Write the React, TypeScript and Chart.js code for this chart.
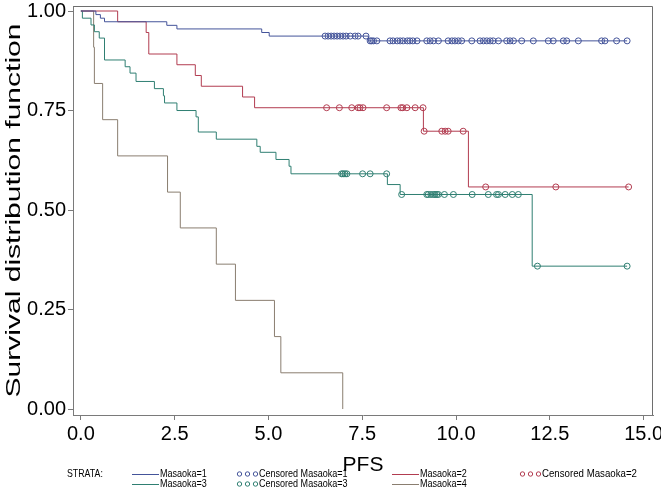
import React, { useEffect, useRef } from 'react';
import { Chart, registerables } from 'chart.js';

Chart.register(...registerables);

const FONT = '"Liberation Sans", Arial, Helvetica, sans-serif';

// Axis ticks
const xTicks = [0, 2.5, 5, 7.5, 10, 12.5, 15];
const yTicks = [0, 0.25, 0.5, 0.75, 1];
const xTitle = 'PFS';
const yTitle = 'Survival distribution function';

// Strata
const strataLabels = ['Masaoka=1', 'Masaoka=2', 'Masaoka=3', 'Masaoka=4'];
const strataColors = ['#44549a', '#b23c50', '#2f7f72', '#8a7e70'];

// Masaoka=1 (event times / survival after each event / censored times)
const m1Times = [0, 0.40, 0.52, 0.63, 2.29, 2.56, 4.82, 5.02, 7.66];
const m1Surv = [1, 0.991, 0.982, 0.973, 0.964, 0.955, 0.946, 0.937, 0.925];
const m1Censor = [6.51, 6.59, 6.67, 6.75, 6.83, 6.91, 6.99, 7.07, 7.18, 7.31, 7.39, 7.60,
  7.71, 7.75, 7.80, 7.89, 8.24, 8.32, 8.43, 8.51, 8.59, 8.70, 8.77, 8.85, 8.96, 9.22, 9.31,
  9.40, 9.53, 9.79, 9.89, 9.97, 10.06, 10.15, 10.42, 10.64, 10.73, 10.82, 10.91, 10.99,
  11.13, 11.35, 11.44, 11.53, 11.75, 12.06, 12.46, 12.59, 12.86, 12.95, 13.26, 13.88,
  13.97, 14.28, 14.56];

// Masaoka=2
const m2Times = [0, 0.98, 1.74, 1.81, 2.56, 3.05, 3.21, 4.31, 4.63, 9.13, 10.33];
const m2Surv = [1, 0.973, 0.946, 0.892, 0.865, 0.838, 0.811, 0.784, 0.757, 0.698, 0.558];
const m2Censor = [6.55, 6.89, 7.22, 7.39, 7.44, 7.52, 8.15, 8.53, 8.58, 8.69, 8.91, 9.12,
  9.15, 9.62, 9.71, 9.79, 10.19, 10.79, 12.66, 14.6];

// Masaoka=3
const m3Times = [0, 0.04, 0.27, 0.36, 0.49, 0.63, 1.18, 1.31, 1.47, 1.96, 2.20, 2.23, 2.56,
  3.07, 3.13, 3.61, 4.69, 4.78, 5.20, 5.55, 5.60, 8.17, 8.51, 12.03];
const m3Surv = [1, 0.982, 0.965, 0.948, 0.932, 0.877, 0.860, 0.844, 0.823, 0.805, 0.787,
  0.769, 0.750, 0.734, 0.696, 0.678, 0.660, 0.645, 0.627, 0.610, 0.591, 0.564, 0.539, 0.359];
const m3Censor = [6.95, 6.99, 7.04, 7.09, 7.51, 7.71, 8.15, 8.55, 9.22, 9.26, 9.33, 9.40,
  9.44, 9.49, 9.53, 9.69, 9.93, 10.43, 10.86, 11.08, 11.13, 11.31, 11.50, 11.66, 12.17, 14.56];

// Masaoka=4
const m4Times = [0, 0.34, 0.36, 0.58, 0.98, 2.31, 2.65, 3.61, 4.12, 5.16, 5.33, 6.98];
const m4Surv = [1, 0.909, 0.818, 0.727, 0.636, 0.545, 0.455, 0.364, 0.273, 0.182, 0.091, 0];
const m4Censor: number[] = [];

const groups = [
  { times: m1Times, surv: m1Surv, censor: m1Censor },
  { times: m2Times, surv: m2Surv, censor: m2Censor },
  { times: m3Times, surv: m3Surv, censor: m3Censor },
  { times: m4Times, surv: m4Surv, censor: m4Censor },
];

function survAt(times: number[], surv: number[], t: number) {
  let s = surv[0];
  for (let i = 0; i < times.length; i++) if (times[i] <= t) s = surv[i];
  return s;
}

function curvePoints(times: number[], surv: number[], censor: number[]) {
  const pts = times.map((t, i) => ({ x: t, y: surv[i] }));
  const last = times[times.length - 1];
  const end = censor.length ? Math.max(...censor) : last;
  if (end > last) pts.push({ x: end, y: surv[surv.length - 1] });
  return pts;
}

const framePlugin = {
  id: 'frameAndLegend',
  afterDraw(chart: any) {
    const { ctx, chartArea } = chart;
    ctx.save();
    ctx.strokeStyle = '#6e6e6e';
    ctx.lineWidth = 1;
    ctx.beginPath();
    ctx.moveTo(Math.round(chartArea.left) + 0.5, Math.round(chartArea.top) + 0.5);
    ctx.lineTo(Math.round(chartArea.right) - 0.5, Math.round(chartArea.top) + 0.5);
    ctx.lineTo(Math.round(chartArea.right) - 0.5, Math.round(chartArea.bottom));
    ctx.stroke();

    // Y axis title (stretched along its length like the reference)
    ctx.save();
    ctx.fillStyle = '#000';
    ctx.font = '21px ' + FONT;
    ctx.textAlign = 'center';
    ctx.textBaseline = 'middle';
    const yc = (chartArea.top + chartArea.bottom) / 2;
    ctx.translate(14, yc);
    ctx.rotate(-Math.PI / 2);
    const w = ctx.measureText(yTitle).width;
    ctx.scale(374 / w, 1);
    ctx.fillText(yTitle, 0, 0);
    ctx.restore();

    // Legend
    ctx.fillStyle = '#000';
    ctx.font = '11px ' + FONT;
    ctx.textBaseline = 'middle';
    ctx.textAlign = 'left';
    const r1 = 474, r2 = 484;
    const txt = (s: string, x: number, y: number, k = 0.82) => {
      ctx.save();
      ctx.translate(x, y);
      ctx.scale(k, 1);
      ctx.fillText(s, 0, 0);
      ctx.restore();
    };
    txt('STRATA:', 67, r1, 0.8);
    const lineItem = (x: number, y: number, color: string, label: string) => {
      ctx.strokeStyle = color;
      ctx.beginPath();
      ctx.moveTo(x, y + 0.5);
      ctx.lineTo(x + 27, y + 0.5);
      ctx.stroke();
      txt(label, x + 28, y);
    };
    const circItem = (x: number, y: number, color: string, label: string, k = 0.82) => {
      ctx.strokeStyle = color;
      for (let j = 0; j < 3; j++) {
        ctx.beginPath();
        ctx.arc(x + 2.5 + j * 8, y, 2.2, 0, Math.PI * 2);
        ctx.stroke();
      }
      txt(label, x + 22, y, k);
    };
    lineItem(132, r1, strataColors[0], strataLabels[0]);
    lineItem(132, r2, strataColors[2], strataLabels[2]);
    circItem(237, r1, strataColors[0], 'Censored ' + strataLabels[0]);
    circItem(237, r2, strataColors[2], 'Censored ' + strataLabels[2]);
    lineItem(392, r1, strataColors[1], strataLabels[1]);
    lineItem(392, r2, strataColors[3], strataLabels[3]);
    circItem(520, r1, strataColors[1], 'Censored ' + strataLabels[1], 0.88);
    ctx.restore();
  },
};

export default function App() {
  const ref = useRef<HTMLCanvasElement>(null);

  useEffect(() => {
    const lineSets = groups.map((g, i) => ({
      type: 'line' as const,
      label: strataLabels[i],
      data: curvePoints(g.times, g.surv, g.censor),
      borderColor: strataColors[i],
      borderWidth: 1,
      pointRadius: 0,
      stepped: 'before' as const,
      fill: false,
    }));
    const censorSets = groups
      .map((g, i) => ({
        type: 'scatter' as const,
        label: 'Censored ' + strataLabels[i],
        data: g.censor.map((t) => ({ x: t, y: survAt(g.times, g.surv, t) })),
        borderColor: strataColors[i],
        backgroundColor: 'rgba(0,0,0,0)',
        pointStyle: 'circle',
        pointRadius: 3,
        borderWidth: 1,
        showLine: false,
      }))
      .filter((d) => d.data.length > 0);

    const chart = new Chart(ref.current!, {
      type: 'line',
      data: { datasets: [...lineSets, ...censorSets] as any },
      options: {
        animation: false,
        responsive: false,
        devicePixelRatio: 1,
        layout: { padding: { top: 6, right: 8, left: 0, bottom: 0 } },
        plugins: { legend: { display: false }, tooltip: { enabled: false } },
        scales: {
          x: {
            type: 'linear',
            min: -0.21,
            max: 15.25,
            afterBuildTicks: (s: any) => {
              s.ticks = xTicks.map((v) => ({ value: v }));
            },
            afterFit: (s: any) => {
              s.height = 86;
              s.paddingLeft = 0;
              s.paddingRight = 0;
            },
            ticks: {
              callback: (v: any) => Number(v).toFixed(1),
              font: { family: FONT, size: 20 },
              color: '#000',
              padding: 2,
              maxRotation: 0,
              autoSkip: false,
            },
            grid: { drawOnChartArea: false, drawTicks: true, tickLength: 5, color: '#7a7a7a' },
            border: { color: '#7a7a7a' },
            title: {
              display: true,
              text: xTitle,
              color: '#000',
              font: { family: FONT, size: 21 },
              padding: { top: 0, bottom: 23 },
            },
          },
          y: {
            type: 'linear',
            min: -0.015,
            max: 1.0126,
            afterBuildTicks: (s: any) => {
              s.ticks = yTicks.map((v) => ({ value: v }));
            },
            afterFit: (s: any) => {
              s.width = 73;
              s.paddingTop = 0;
              s.paddingBottom = 0;
            },
            ticks: {
              callback: (v: any) => Number(v).toFixed(2),
              font: { family: FONT, size: 20 },
              color: '#000',
              padding: 2,
              autoSkip: false,
            },
            grid: { drawOnChartArea: false, drawTicks: true, tickLength: 5, color: '#7a7a7a' },
            border: { color: '#7a7a7a' },
            title: { display: false },
          },
        },
      },
      plugins: [framePlugin],
    });
    return () => chart.destroy();
  }, []);

  return (
    <div style={{ position: 'fixed', left: 0, top: 0, width: 661, height: 501, background: '#fff' }}>
      <canvas ref={ref} width={661} height={501} style={{ display: 'block' }} />
    </div>
  );
}
